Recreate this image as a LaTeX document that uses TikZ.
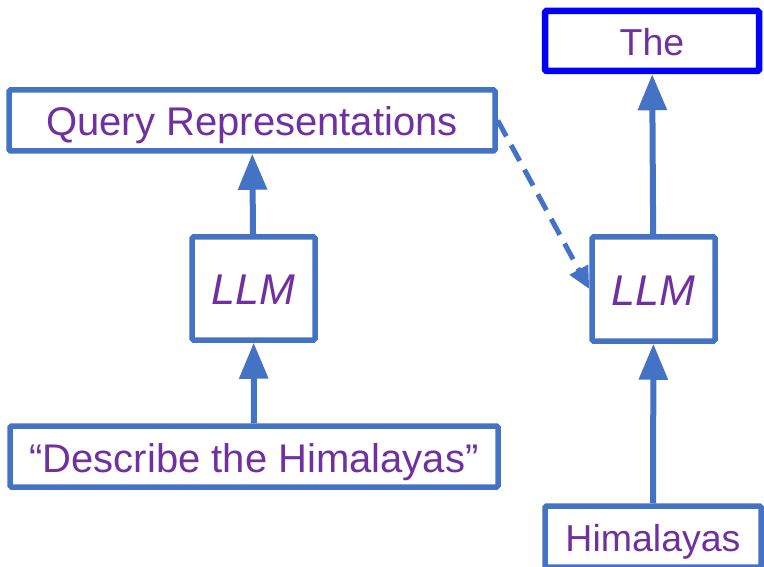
\documentclass[tikz,border=0pt]{standalone}
\usepackage{fontspec}
\setmainfont{Liberation Sans}
\usetikzlibrary{arrows.meta}

\definecolor{boxblue}{HTML}{4472C4}
\definecolor{txtpurple}{HTML}{7030A0}

\tikzstyle{block} = [draw=boxblue,line width=5.5pt,rounded corners=1.5pt,text=txtpurple,
	font=\fontsize{40}{48}\selectfont,inner sep=0pt,text height=36pt,text depth=5pt]
\tikzstyle{small} = [font=\fontsize{37.5}{45}\selectfont,text height=34pt,text depth=5pt]
\tikzstyle{model} = [font=\fontsize{43}{50}\selectfont\itshape,text height=38pt,text depth=5pt]
\tikzstyle{flow} = [draw=boxblue,line width=6pt,-{Triangle[width=28pt,length=36pt]}]
\tikzstyle{feed} = [draw=boxblue,line width=5pt,dash pattern=on 18pt off 10pt,-{Triangle[width=20pt,length=22pt]}]

\begin{document}
\begin{tikzpicture}[x=1pt,y=-1pt]
	\useasboundingbox (0,0) rectangle (764,567);

	\node[block,minimum width=486pt,minimum height=61pt] (query) at (252,120.5) {Query Representations};
	\node[block,model,minimum width=123pt,minimum height=103pt] (llm1) at (253.5,288.5) {LLM};
	\node[block,minimum width=488pt,minimum height=61pt] (prompt) at (254,456.5) {“Describe the Himalayas”};

	\node[block,small,draw=blue,line width=6.5pt,minimum width=214pt,minimum height=60pt] (the) at (652,41) {The};
	\node[block,model,minimum width=123pt,minimum height=104pt] (llm2) at (653.5,289) {LLM};
	\node[block,small,minimum width=216pt,minimum height=61pt] (word) at (653,536.5) {Himalayas};

	\draw[flow] (prompt) -- (llm1);
	\draw[flow] (llm1) -- (query);
	\draw[flow] (word) -- (llm2);
	\draw[flow] (llm2) -- (the);
	\draw[feed] (query.east) -- (llm2.west);
\end{tikzpicture}
\end{document}
